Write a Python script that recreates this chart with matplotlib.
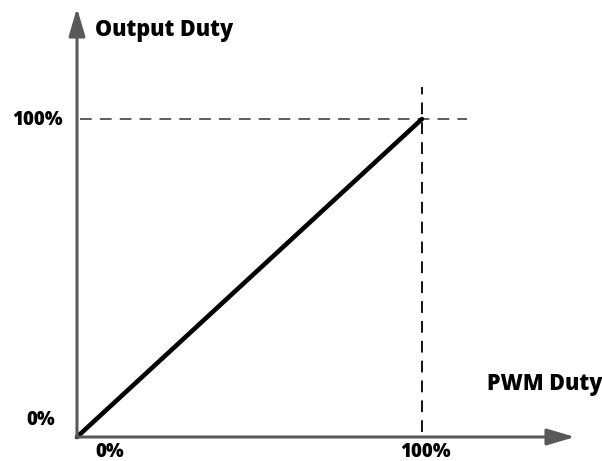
import matplotlib
matplotlib.use("Agg")
import matplotlib.pyplot as plt

# Data
pwm_duty = [0.0, 1.0]
output_duty = [0.0, 1.0]
x_tick_values = [0.0, 1.0]
x_tick_labels = ["0%", "100%"]
y_tick_values = [0.0, 1.0]
y_tick_labels = ["0%", "100%"]
x_axis_title = "PWM Duty"
y_axis_title = "Output Duty"

W, H = 602, 461
fig = plt.figure(figsize=(W / 100, H / 100), dpi=100)
ax = fig.add_axes([0, 0, 1, 1])
ax.set_axis_off()

# pixel mapping: origin (77,437); x=1 -> 422 px ; y=1 -> 119 px
ox, oy = 77, 437
sx, sy = 422 - 77, 437 - 119
ax.set_xlim(-ox / sx, (W - ox) / sx)
ax.set_ylim(-(H - oy) / sy, oy / sy)

axis_color = "#595959"
font = dict(family=["Open Sans", "DejaVu Sans"], fontweight=800, color="black")

# axes arrows
ax.annotate("", xy=((575 - ox) / sx, 0), xytext=(0, 0),
            arrowprops=dict(arrowstyle="-|>,head_length=1.7,head_width=0.5",
                            color=axis_color, lw=2.2, mutation_scale=10,
                            shrinkA=0, shrinkB=0))
ax.annotate("", xy=(0, (oy - 8) / sy), xytext=(0, 0),
            arrowprops=dict(arrowstyle="-|>,head_length=1.7,head_width=0.5",
                            color=axis_color, lw=2.2, mutation_scale=10,
                            shrinkA=0, shrinkB=0))

# dashed guide lines
ax.plot([(80 - ox) / sx, (467 - ox) / sx], [y_tick_values[1]] * 2,
        color="#505050", lw=1.3, dashes=(6.5, 4.5))
ax.plot([x_tick_values[1]] * 2, [(oy - 432) / sy, (oy - 87) / sy],
        color="black", lw=1.3, dashes=(6.5, 4.5))

# main line
ax.plot(pwm_duty, output_duty, color="black", lw=3.3, solid_capstyle="round")

# tick labels
xpos = {0.0: 110, 1.0: 426}
for v, lab in zip(x_tick_values, x_tick_labels):
    ax.text((xpos[v] - ox) / sx, -(452 - oy) / sy, lab,
            ha="center", va="center", fontsize=13.5, **font)
ax.text((38 - ox) / sx, (oy - 120) / sy, y_tick_labels[1], ha="center", va="center", fontsize=13.5, **font)
ax.text((41 - ox) / sx, (oy - 420) / sy, y_tick_labels[0], ha="center", va="center", fontsize=13.5, **font)

# axis titles
ax.text((95 - ox) / sx, (oy - 30) / sy, y_axis_title, ha="left", va="center", fontsize=15.5, **font)
ax.text((602 - ox) / sx, (oy - 384) / sy, x_axis_title, ha="right", va="center", fontsize=15.5, **font)

fig.savefig("out.png", dpi=100)
